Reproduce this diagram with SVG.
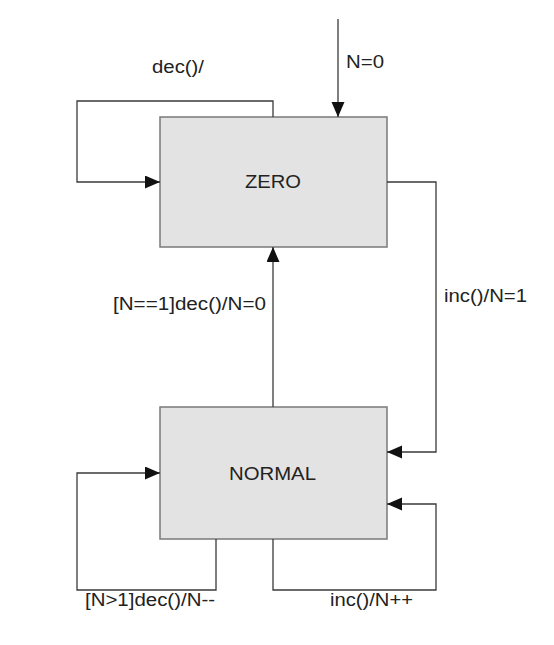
<svg xmlns="http://www.w3.org/2000/svg" width="554" height="645" viewBox="0 0 554 645">
<style>
.node{fill:#e3e3e3;stroke:#7a7a7a;stroke-width:1.5}
.edge{fill:none;stroke:#3a3a3a;stroke-width:1.3}
.t{font-family:"Liberation Sans",Arial,sans-serif;font-size:18px;fill:#222}
</style>
<defs>
<marker id="ah" markerUnits="userSpaceOnUse" markerWidth="16" markerHeight="14" refX="15" refY="6.5" orient="auto">
<path d="M0,0 L15,6.5 L0,13 Z" fill="#111"/>
</marker>
</defs>
<rect width="554" height="645" fill="#fff"/>
<g id="zero">
<rect class="node" x="160" y="117" width="227" height="130"/>
<text class="t" x="245" y="188" textLength="56" lengthAdjust="spacingAndGlyphs">ZERO</text>
</g>
<g id="normal">
<rect class="node" x="160" y="407" width="227" height="132"/>
<text class="t" x="229" y="480" textLength="87" lengthAdjust="spacingAndGlyphs">NORMAL</text>
</g>
<g id="connectors">
<path class="edge" d="M338,19 L338,117" marker-end="url(#ah)"/>
<path class="edge" d="M273,117 L273,101 L77,101 L77,182 L160,182" marker-end="url(#ah)"/>
<path class="edge" d="M387,182 L436,182 L436,452 L387,452" marker-end="url(#ah)"/>
<path class="edge" d="M273,407 L273,247" marker-end="url(#ah)"/>
<path class="edge" d="M216,539 L216,590 L77,590 L77,473 L160,473" marker-end="url(#ah)"/>
<path class="edge" d="M273,539 L273,590 L436,590 L436,504 L387,504" marker-end="url(#ah)"/>
<text class="t" x="152" y="73" textLength="52" lengthAdjust="spacingAndGlyphs">dec()/</text>
<text class="t" x="346" y="68" textLength="38" lengthAdjust="spacingAndGlyphs">N=0</text>
<text class="t" x="113" y="310" textLength="153" lengthAdjust="spacingAndGlyphs">[N==1]dec()/N=0</text>
<text class="t" x="444" y="302" textLength="83" lengthAdjust="spacingAndGlyphs">inc()/N=1</text>
<text class="t" x="85" y="606" textLength="130" lengthAdjust="spacingAndGlyphs">[N&gt;1]dec()/N--</text>
<text class="t" x="330" y="606" textLength="83" lengthAdjust="spacingAndGlyphs">inc()/N++</text>
</g>
</svg>
